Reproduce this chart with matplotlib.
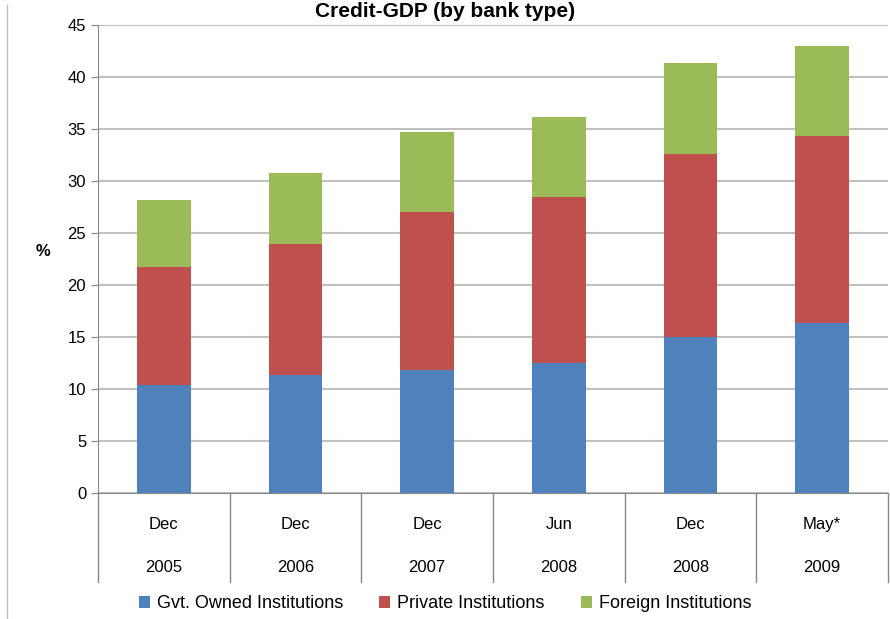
import matplotlib
matplotlib.use("Agg")
import matplotlib.pyplot as plt
from matplotlib.lines import Line2D

periods = ["Dec", "Dec", "Dec", "Jun", "Dec", "May*"]
years = ["2005", "2006", "2007", "2008", "2008", "2009"]
govt = [10.4, 11.3, 11.8, 12.5, 15.0, 16.3]
private_tot = [21.7, 23.9, 27.0, 28.5, 32.6, 34.3]
total = [28.2, 30.8, 34.7, 36.2, 41.3, 43.0]
private = [p - g for p, g in zip(private_tot, govt)]
foreign = [t - p for t, p in zip(total, private_tot)]

plt.rcParams['font.family'] = ['Liberation Sans', 'DejaVu Sans']
W, H = 890, 619
fig = plt.figure(figsize=(W/100, H/100), dpi=100)
ax = fig.add_axes([98/W, 1-493/H, 790/W, 468/H])
x = list(range(len(govt)))
bw = 0.41
ax.bar(x, govt, bw, color="#4F81BD", label="Gvt. Owned Institutions")
ax.bar(x, private, bw, bottom=govt, color="#C0504D", label="Private Institutions")
ax.bar(x, foreign, bw, bottom=private_tot, color="#9BBB59", label="Foreign Institutions")
ax.set_xlim(-0.5, len(x)-0.5)
ax.set_ylim(0, 45)
ax.set_yticks(range(0, 46, 5))
ax.yaxis.grid(True, color="#C0C0C0", lw=1.5)
ax.set_axisbelow(True)
for s in ["top", "right"]:
    ax.spines[s].set_visible(False)
ax.spines["left"].set_color("#888888")
ax.spines["bottom"].set_color("#888888")
ax.set_xticks([])
ax.tick_params(axis="y", labelsize=12, length=5, color="#888888")
ax.set_ylabel("%", rotation=0, fontsize=12, fontweight="bold", labelpad=18)
for i in x:
    ax.text(i, -3, periods[i], ha="center", va="center", fontsize=12)
    ax.text(i, -7.2, years[i], ha="center", va="center", fontsize=12)
for b in range(len(x)+1):
    ax.plot([b-0.5, b-0.5], [0, -8.6], color="#888888", lw=1, clip_on=False)
fig.text(0.5, 1-2/H, "Credit-GDP (by bank type)", ha="center", va="top", fontsize=15, fontweight="bold")
fig.add_artist(Line2D([7/W, 7/W], [0, 1-5/H], color="#C0C0C0", lw=1))
fig.legend(loc="center", bbox_to_anchor=(0.5, 1-604/H), ncol=3, frameon=False,
           fontsize=13, handlelength=0.6, handleheight=0.6, columnspacing=2.0, handletextpad=0.4)
fig.savefig("out.png", dpi=100)
